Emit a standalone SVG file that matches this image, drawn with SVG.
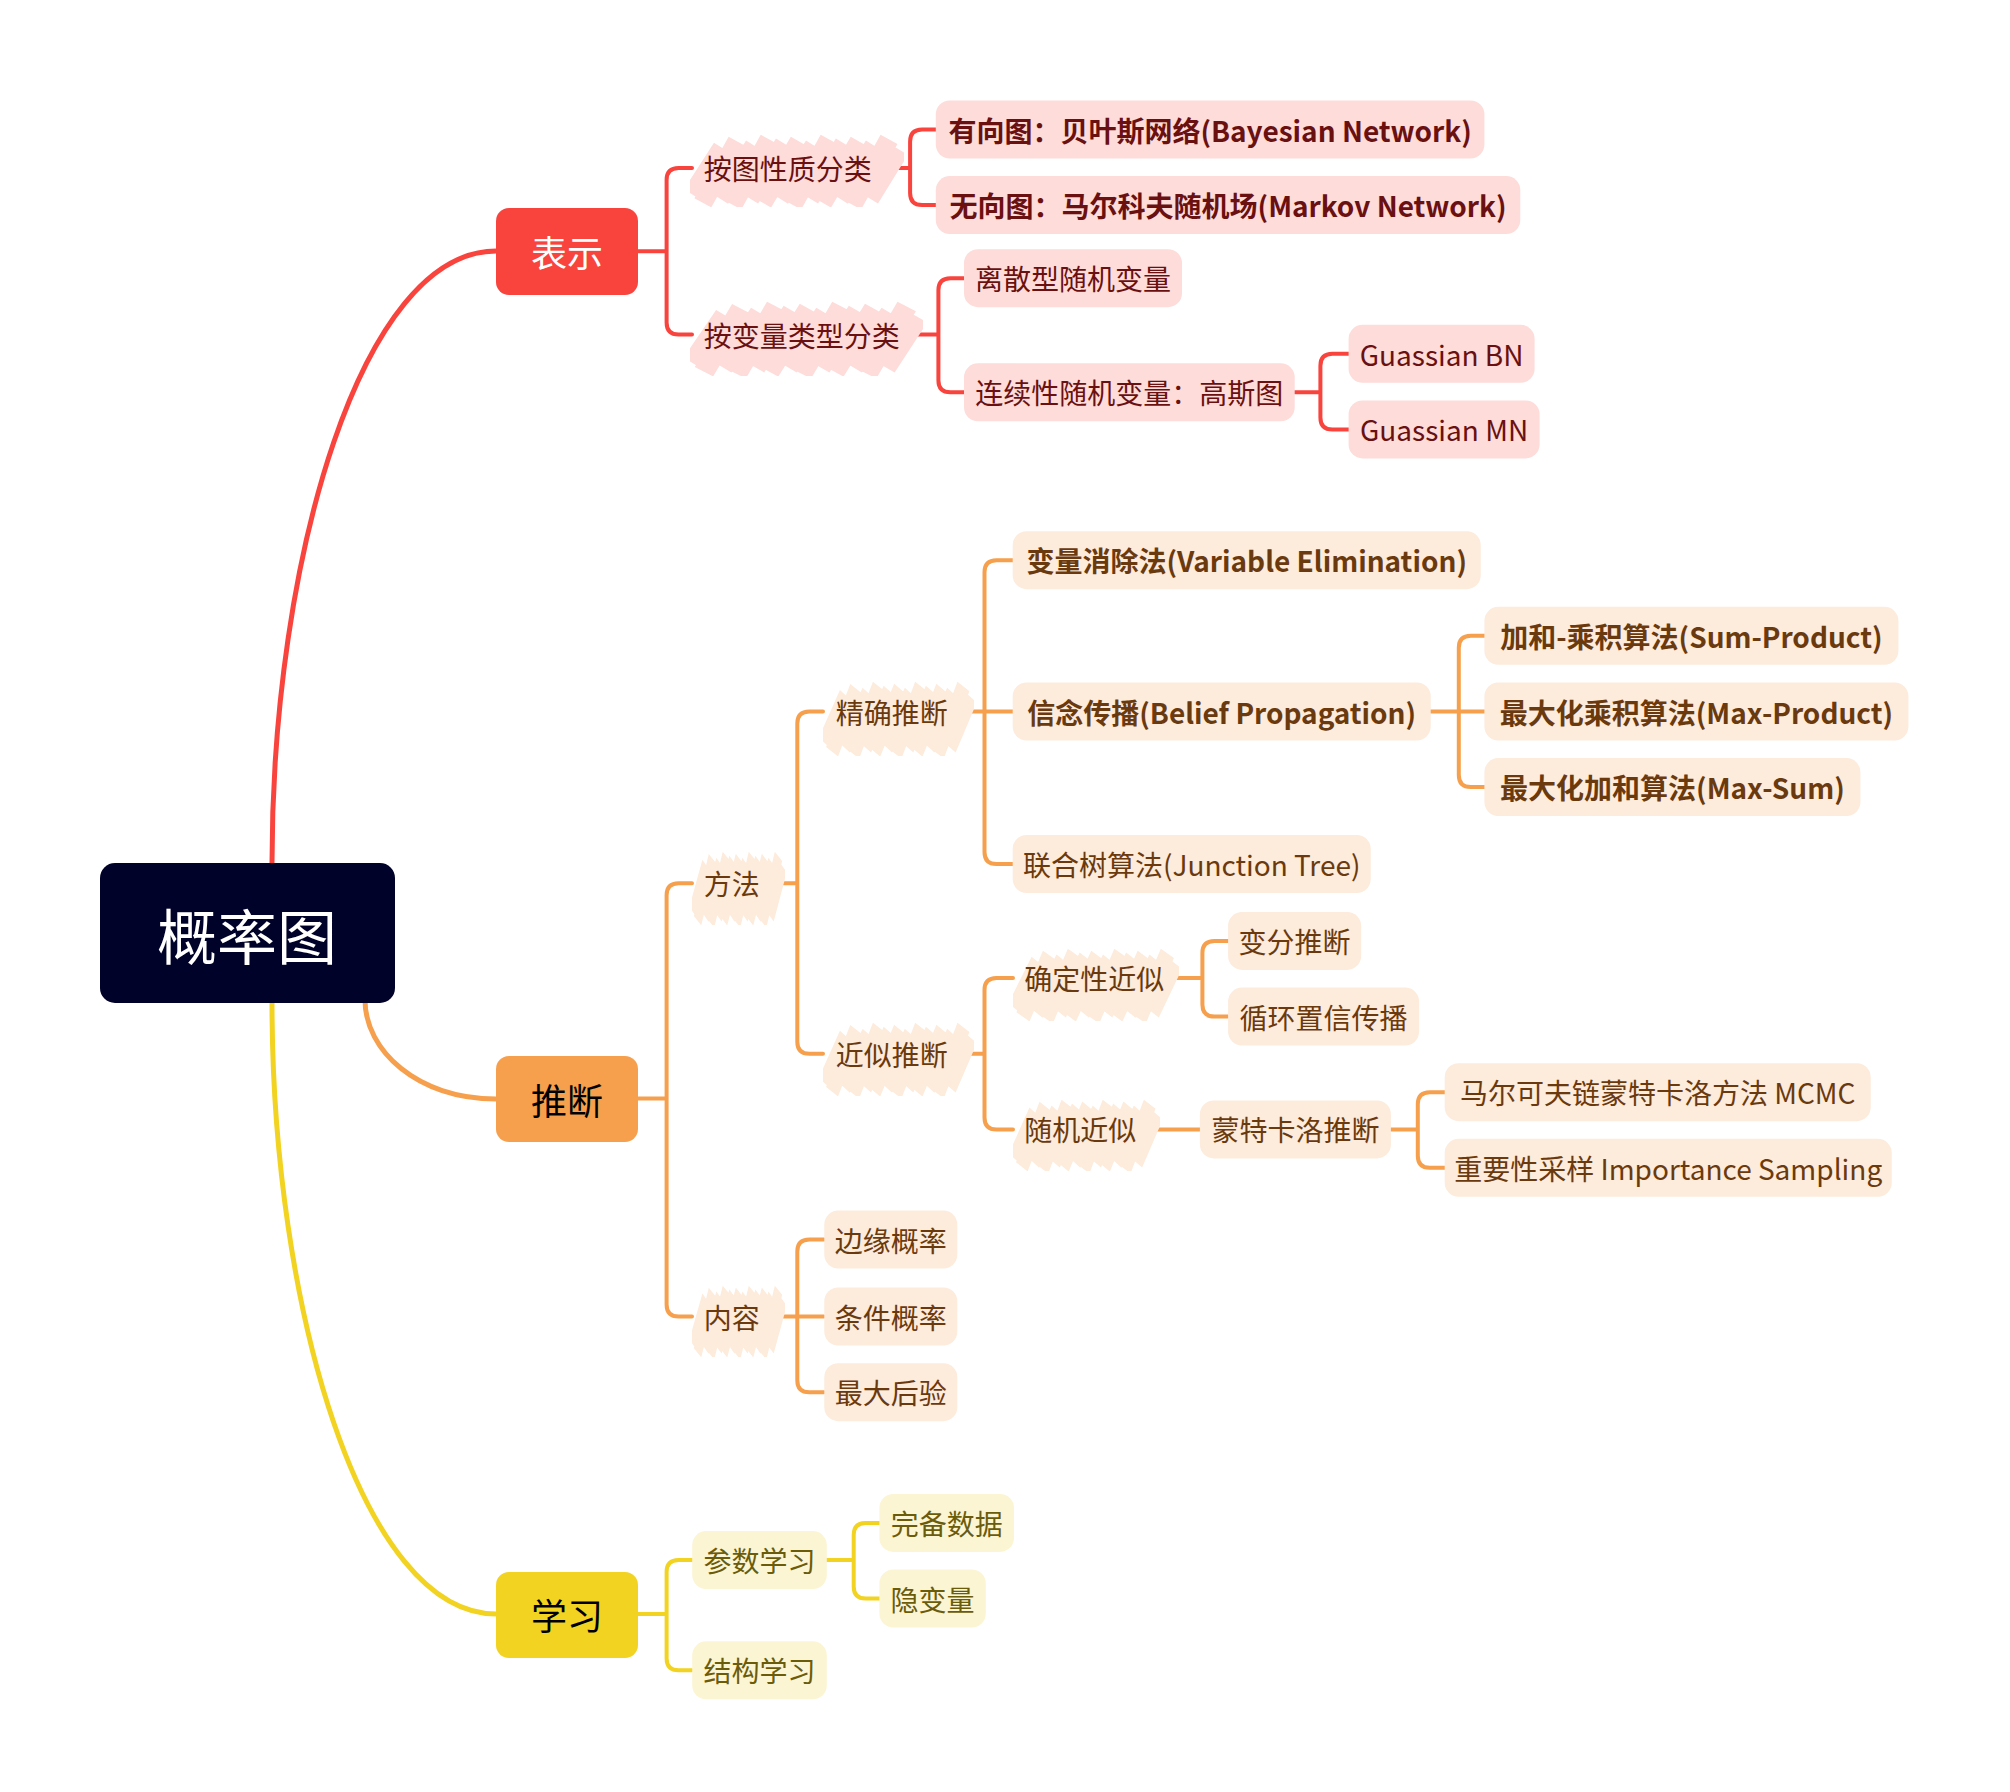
<svg xmlns="http://www.w3.org/2000/svg" width="2010" height="1792" viewBox="0 0 2010 1792">
<style>
.t{font-family:"Noto Sans CJK SC","Noto Sans",sans-serif;font-size:28px;dominant-baseline:central}
.m{text-anchor:middle}
.b{font-weight:700}
.rt{fill:#6A1010}.ot{fill:#6A3A0E}.yt{fill:#6B5C0B}
.rb{fill:#FDDCDA}.ob{fill:#FDEBDC}.yb{fill:#FCF5D3}
.c path{fill:none;stroke-width:4;stroke-linecap:round}
.c .main{stroke-width:5}
.rl path{stroke:#F9443E}.ol path{stroke:#F6A04D}.yl path{stroke:#F2D321}
.l1{font-family:"Noto Sans CJK SC","Noto Sans",sans-serif;font-size:36px;dominant-baseline:central;text-anchor:middle}
</style>
<defs>
<symbol id="scr" viewBox="0 0 200 70" preserveAspectRatio="none">
<path fill="none" stroke="currentColor" stroke-width="18" d="M2,58 L30,14 M12,66 L44,8 M28,62 L60,12 M40,68 L74,6 M56,62 L88,10 M68,66 L102,8 M84,62 L116,12 M96,68 L130,6 M112,62 L144,10 M124,66 L158,8 M140,62 L172,12 M152,68 L186,6 M168,62 L196,16"/>
</symbol>
</defs>
<rect width="2010" height="1792" fill="#FFFFFF"/>
<g id="connectors" class="c">
<g class="rl">
<path class="main" d="M272,863 C272,557 362,251 496,251"/>
<path d="M638,251.3 H666.6 M666.6,251.3 V179.9 Q666.6,167.9 678.6,167.9 H692 M666.6,251.3 V322.6 Q666.6,334.6 678.6,334.6 H692"/>
<path d="M884,167.9 H910.1 M910.1,167.9 V141.5 Q910.1,129.5 922.1,129.5 H936 M910.1,167.9 V193.1 Q910.1,205.1 922.1,205.1 H936"/>
<path d="M912,334.6 H938.4 M938.4,334.6 V290.2 Q938.4,278.2 950.4,278.2 H964 M938.4,334.6 V380.3 Q938.4,392.3 950.4,392.3 H964"/>
<path d="M1294.7,392.3 H1320.4 M1320.4,392.3 V365.8 Q1320.4,353.8 1332.4,353.8 H1349 M1320.4,392.3 V417.4 Q1320.4,429.4 1332.4,429.4 H1349"/>
</g>
<g class="ol">
<path class="main" d="M365,1000 C365,1050 417,1099 496,1099"/>
<path d="M638,1098.6 H666.6 M666.6,1098.6 V895.2 Q666.6,883.2 678.6,883.2 H692 M666.6,1098.6 V1304.5 Q666.6,1316.5 678.6,1316.5 H692"/>
<path d="M774,883.2 H797.3 M797.3,883.2 V723.5 Q797.3,711.5 809.3,711.5 H823 M797.3,883.2 V1041.7 Q797.3,1053.7 809.3,1053.7 H823"/>
<path d="M774,1316.5 H797.3 M797.3,1316.5 V1251.6 Q797.3,1239.6 809.3,1239.6 H824 M797.3,1316.5 H824 M797.3,1316.5 V1380.2 Q797.3,1392.2 809.3,1392.2 H824"/>
<path d="M960,711.5 H984.5 M984.5,711.5 V572.2 Q984.5,560.2 996.5,560.2 H1013 M984.5,711.5 H1013 M984.5,711.5 V852 Q984.5,864 996.5,864 H1013"/>
<path d="M960,1053.7 H984.5 M984.5,1053.7 V990.1 Q984.5,978.1 996.5,978.1 H1013 M984.5,1053.7 V1117.4 Q984.5,1129.4 996.5,1129.4 H1013"/>
<path d="M1430.6,711.5 H1458.8 M1458.8,711.5 V647.8 Q1458.8,635.8 1470.8,635.8 H1485 M1458.8,711.5 H1485 M1458.8,711.5 V775.1 Q1458.8,787.1 1470.8,787.1 H1485"/>
<path d="M1176,978.1 H1202.4 M1202.4,978.1 V952.9 Q1202.4,940.9 1214.4,940.9 H1228 M1202.4,978.1 V1004.6 Q1202.4,1016.6 1214.4,1016.6 H1228"/>
<path d="M1148,1129.4 H1200"/>
<path d="M1390.9,1129.4 H1417.8 M1417.8,1129.4 V1104.2 Q1417.8,1092.2 1429.8,1092.2 H1445 M1417.8,1129.4 V1155.8 Q1417.8,1167.8 1429.8,1167.8 H1445"/>
</g>
<g class="yl">
<path class="main" d="M272,1002 C272,1308 362,1614 496,1614"/>
<path d="M638,1613.9 H666.6 M666.6,1613.9 V1572.1 Q666.6,1560.1 678.6,1560.1 H692.2 M666.6,1613.9 V1658.3 Q666.6,1670.3 678.6,1670.3 H692.2"/>
<path d="M826.8,1560.1 H853.7 M853.7,1560.1 V1534.9 Q853.7,1522.9 865.7,1522.9 H879.4 M853.7,1560.1 V1586.5 Q853.7,1598.5 865.7,1598.5 H879.4"/>
</g>
</g>

<g id="root"><rect x="100" y="863" width="295" height="140" rx="15" fill="#000229"/><text x="247" y="933" font-family="Noto Sans CJK SC, sans-serif" font-size="60" fill="#FFFFFF" text-anchor="middle" dominant-baseline="central">概率图</text></g>

<g id="n-biaoshi"><rect x="496" y="208" width="142" height="87" rx="13" fill="#F9443E"/><text class="l1" x="567" y="251.3" fill="#FFFFFF">表示</text></g>
<g id="n-tuiduan"><rect x="496" y="1056" width="142" height="86" rx="13" fill="#F6A04D"/><text class="l1" x="567" y="1098.6" fill="#000000">推断</text></g>
<g id="n-xuexi"><rect x="496" y="1572" width="142" height="86" rx="13" fill="#F2D321"/><text class="l1" x="567" y="1613.9" fill="#000000">学习</text></g>

<g id="n-tuxingzhi"><use href="#scr" x="690" y="133" width="214" height="74" color="#FDDCDA"/><text class="t rt" x="703.8" y="167.9">按图性质分类</text></g>
<g id="n-bianliangleixing"><use href="#scr" x="690" y="300" width="233" height="76" color="#FDDCDA"/><text class="t rt" x="703.8" y="334.6">按变量类型分类</text></g>
<g id="n-youxiang"><rect class="rb" x="935.8" y="100.5" width="548.6" height="58" rx="14"/><text class="t m b rt" x="1210.1" y="129.5">有向图：贝叶斯网络(Bayesian Network)</text></g>
<g id="n-wuxiang"><rect class="rb" x="935.8" y="176.1" width="584.5" height="58" rx="14"/><text class="t m b rt" x="1228.05" y="205.1">无向图：马尔科夫随机场(Markov Network)</text></g>
<g id="n-lisan"><rect class="rb" x="964" y="249.2" width="218" height="58" rx="14"/><text class="t m rt" x="1073" y="278.2">离散型随机变量</text></g>
<g id="n-lianxu"><rect class="rb" x="964" y="363.3" width="330.7" height="58" rx="14"/><text class="t m rt" x="1129.35" y="392.3">连续性随机变量：高斯图</text></g>
<g id="n-gbn"><rect class="rb" x="1348.6" y="324.8" width="186" height="58" rx="14"/><text class="t m rt" x="1441.6" y="353.8">Guassian BN</text></g>
<g id="n-gmn"><rect class="rb" x="1348.6" y="400.4" width="191" height="58" rx="14"/><text class="t m rt" x="1444.1" y="429.4">Guassian MN</text></g>

<g id="n-fangfa"><use href="#scr" x="692" y="850" width="93" height="75" color="#FDEBDC"/><text class="t ot" x="703.8" y="883.2">方法</text></g>
<g id="n-neirong"><use href="#scr" x="692" y="1284" width="93" height="73" color="#FDEBDC"/><text class="t ot" x="703.8" y="1316.5">内容</text></g>
<g id="n-jingque"><use href="#scr" x="823" y="680" width="151" height="76" color="#FDEBDC"/><text class="t ot" x="835.8" y="711.5">精确推断</text></g>
<g id="n-jinsi"><use href="#scr" x="823" y="1021" width="151" height="75" color="#FDEBDC"/><text class="t ot" x="835.8" y="1053.7">近似推断</text></g>
<g id="n-queding"><use href="#scr" x="1013" y="947" width="166" height="74" color="#FDEBDC"/><text class="t ot" x="1024.2" y="978.1">确定性近似</text></g>
<g id="n-suiji"><use href="#scr" x="1013" y="1098" width="147" height="73" color="#FDEBDC"/><text class="t ot" x="1024.2" y="1129.4">随机近似</text></g>

<g id="n-bianliang"><rect class="ob" x="1012.7" y="531.2" width="468" height="58" rx="14"/><text class="t m b ot" x="1246.7" y="560.2">变量消除法(Variable Elimination)</text></g>
<g id="n-xinnian"><rect class="ob" x="1012.7" y="682.5" width="418" height="58" rx="14"/><text class="t m b ot" x="1221.7" y="711.5">信念传播(Belief Propagation)</text></g>
<g id="n-lianhe"><rect class="ob" x="1012.7" y="835" width="358" height="58" rx="14"/><text class="t m ot" x="1191.7" y="864">联合树算法(Junction Tree)</text></g>
<g id="n-sum"><rect class="ob" x="1484.4" y="606.8" width="414" height="58" rx="14"/><text class="t m b ot" x="1691.4" y="635.8">加和-乘积算法(Sum-Product)</text></g>
<g id="n-maxprod"><rect class="ob" x="1484.4" y="682.5" width="424" height="58" rx="14"/><text class="t m b ot" x="1696.4" y="711.5">最大化乘积算法(Max-Product)</text></g>
<g id="n-maxsum"><rect class="ob" x="1484.4" y="758.1" width="376" height="58" rx="14"/><text class="t m b ot" x="1672.4" y="787.1">最大化加和算法(Max-Sum)</text></g>
<g id="n-bianfen"><rect class="ob" x="1228.1" y="911.9" width="133" height="58" rx="14"/><text class="t m ot" x="1294.6" y="940.9">变分推断</text></g>
<g id="n-xunhuan"><rect class="ob" x="1228.1" y="987.6" width="191" height="58" rx="14"/><text class="t m ot" x="1323.6" y="1016.6">循环置信传播</text></g>
<g id="n-mengte"><rect class="ob" x="1199.9" y="1100.4" width="191" height="58" rx="14"/><text class="t m ot" x="1295.4" y="1129.4">蒙特卡洛推断</text></g>
<g id="n-mcmc"><rect class="ob" x="1444.7" y="1063.2" width="426" height="58" rx="14"/><text class="t m ot" x="1657.7" y="1092.2">马尔可夫链蒙特卡洛方法 MCMC</text></g>
<g id="n-imp"><rect class="ob" x="1444.7" y="1138.8" width="447" height="58" rx="14"/><text class="t m ot" x="1668.2" y="1167.8">重要性采样 Importance Sampling</text></g>
<g id="n-bianyuan"><rect class="ob" x="824.3" y="1210.6" width="133" height="58" rx="14"/><text class="t m ot" x="890.8" y="1239.6">边缘概率</text></g>
<g id="n-tiaojian"><rect class="ob" x="824.3" y="1287.5" width="133" height="58" rx="14"/><text class="t m ot" x="890.8" y="1316.5">条件概率</text></g>
<g id="n-zuida"><rect class="ob" x="824.3" y="1363.2" width="133" height="58" rx="14"/><text class="t m ot" x="890.8" y="1392.2">最大后验</text></g>

<g id="n-canshu"><rect class="yb" x="692.2" y="1531.1" width="134.6" height="58" rx="14"/><text class="t m yt" x="759.5" y="1560.1">参数学习</text></g>
<g id="n-jiegou"><rect class="yb" x="692.2" y="1641.3" width="134.6" height="58" rx="14"/><text class="t m yt" x="759.5" y="1670.3">结构学习</text></g>
<g id="n-wanbei"><rect class="yb" x="879.4" y="1493.9" width="134.6" height="58" rx="14"/><text class="t m yt" x="946.7" y="1522.9">完备数据</text></g>
<g id="n-yin"><rect class="yb" x="879.4" y="1569.5" width="106.4" height="58" rx="14"/><text class="t m yt" x="932.6" y="1598.5">隐变量</text></g>
</svg>
